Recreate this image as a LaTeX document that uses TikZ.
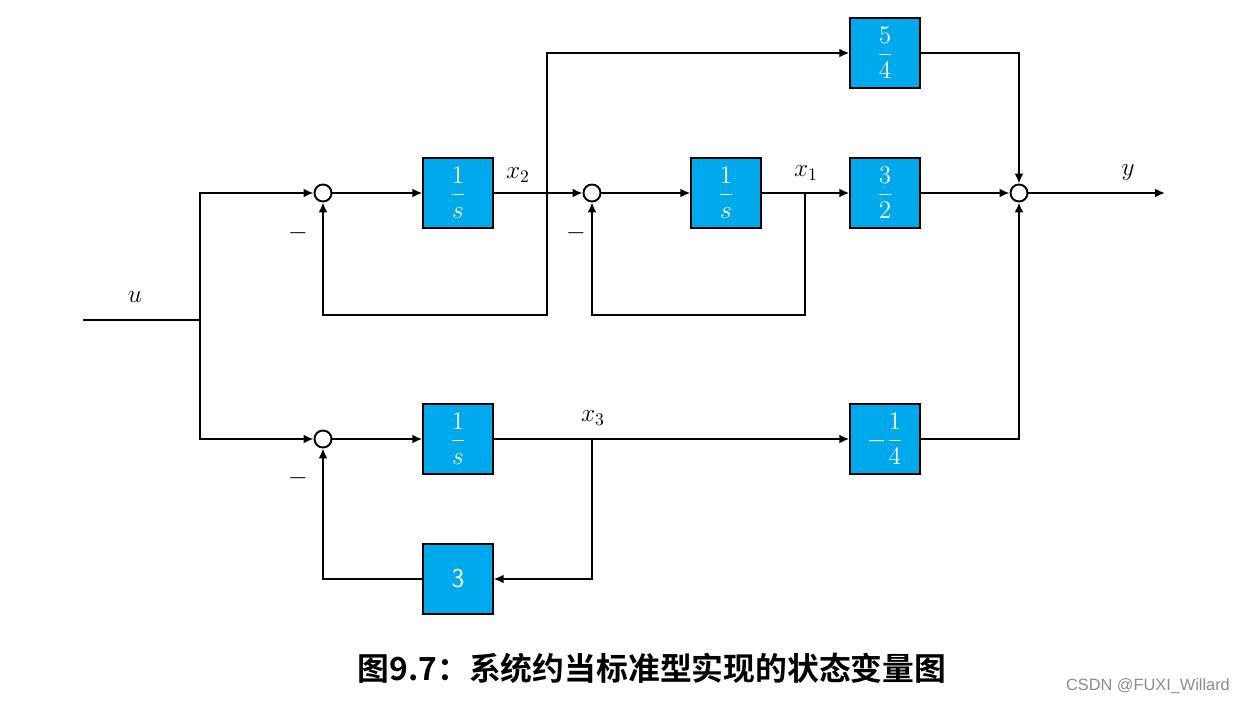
\documentclass[tikz,border=0pt]{standalone}
\usepackage{amsmath}
\usepackage{fontspec}
\usepackage{xcolor}
\usepackage{tikz}
\usetikzlibrary{arrows.meta}
\usetikzlibrary{calc,positioning}

\newfontfamily\cjk{Noto Sans CJK SC}[BoldFont=* Bold]
\newfontfamily\wmfont{Liberation Sans}
\definecolor{blokblauw}{RGB}{0,168,236}

\begin{document}
\begin{tikzpicture}[
    line width=1.1pt,
    >={Latex[length=2mm,width=1.8mm]},
    gain/.style={draw=black, line width=0.8pt, fill=blokblauw, text=white,
        minimum size=1.4cm, inner sep=0pt, font=\fontsize{15.5}{18}\selectfont},
    som/.style={draw, circle, line width=1.1pt, fill=white, minimum size=0.34cm, inner sep=0pt},
    lbl/.style={font=\fontsize{14}{17}\selectfont}
]

    % Kader
    \useasboundingbox (0,0) rectangle (24.88,14.08);

    % Sommatiepunten
    \node[som] (s1) at (6.46,10.22) {};
    \node[som] (s2) at (11.84,10.22) {};
    \node[som] (s3) at (20.38,10.22) {};
    \node[som] (s4) at (6.46,5.30) {};

    % Blokken
    \node[gain] (ga) at (9.16,10.22) {$\dfrac{1}{s}$};
    \node[gain] (gb) at (14.52,10.22) {$\dfrac{1}{s}$};
    \node[gain] (gc) at (9.16,5.30) {$\dfrac{1}{s}$};
    \node[gain] (g3) at (9.16,2.50) {\sffamily 3};
    \node[gain] (g54) at (17.70,13.02) {$\dfrac{5}{4}$};
    \node[gain] (g32) at (17.70,10.22) {$\dfrac{3}{2}$};
    \node[gain] (g14) at (17.70,5.30) {$-\dfrac{1}{4}$};

    % Aftakpunten
    \coordinate (uin) at (1.66,7.68);
    \coordinate (split) at (4.00,7.68);
    \coordinate (px2) at (10.94,10.22);
    \coordinate (fb1) at (10.94,7.78);
    \coordinate (px1) at (16.10,10.22);
    \coordinate (fb2) at (16.10,7.78);
    \coordinate (px3) at (11.84,5.30);
    \coordinate (fb3) at (11.84,2.50);
    \coordinate (yout) at (23.30,10.22);

    % Ingang
    \draw (uin) -- (split);
    \draw[->] (split) |- (s1.west);
    \draw[->] (split) |- (s4.west);

    % Bovenste tak
    \draw[->] (s1.east) -- (ga.west);
    \draw[->] (ga.east) -- (s2.west);
    \draw[->] (px2) |- (g54.west);
    \draw[->] (px2) -- (fb1) -| (s1.south);
    \draw[->] (s2.east) -- (gb.west);
    \draw[->] (gb.east) -- (g32.west);
    \draw[->] (px1) -- (fb2) -| (s2.south);

    % Onderste tak
    \draw[->] (s4.east) -- (gc.west);
    \draw[->] (gc.east) -- (g14.west);
    \draw[->] (px3) -- (fb3) -- (g3.east);
    \draw[->] (g3.west) -| (s4.south);

    % Uitgang
    \draw[->] (g54.east) -| (s3.north);
    \draw[->] (g32.east) -- (s3.west);
    \draw[->] (g14.east) -| (s3.south);
    \draw[->] (s3.east) -- (yout);

    % Labels
    \node[lbl] (lu) at (2.70,8.14) {$u$};
    \node[lbl] (lx2) at (10.36,10.58) {$x_2$};
    \node[lbl] (lx1) at (16.12,10.62) {$x_1$};
    \node[lbl] (lx3) at (11.86,5.72) {$x_3$};
    \node[lbl] (ly) at (22.56,10.62) {$y$};
    \foreach \mx/\my in {5.96/9.42, 11.52/9.42, 5.96/4.52} {
        \node[lbl] at (\mx,\my) {$-$};
    }

    % Onderschrift
    \node[font=\cjk\bfseries\fontsize{18.1}{22}\selectfont] (cap) at (13.04,0.72)
        {图9.7：系统约当标准型实现的状态变量图};
    \node[font=\wmfont\fontsize{9.3}{11}\selectfont, text=black!45] (wm) at (22.96,0.36)
        {CSDN @FUXI\_Willard};

\end{tikzpicture}
\end{document}
